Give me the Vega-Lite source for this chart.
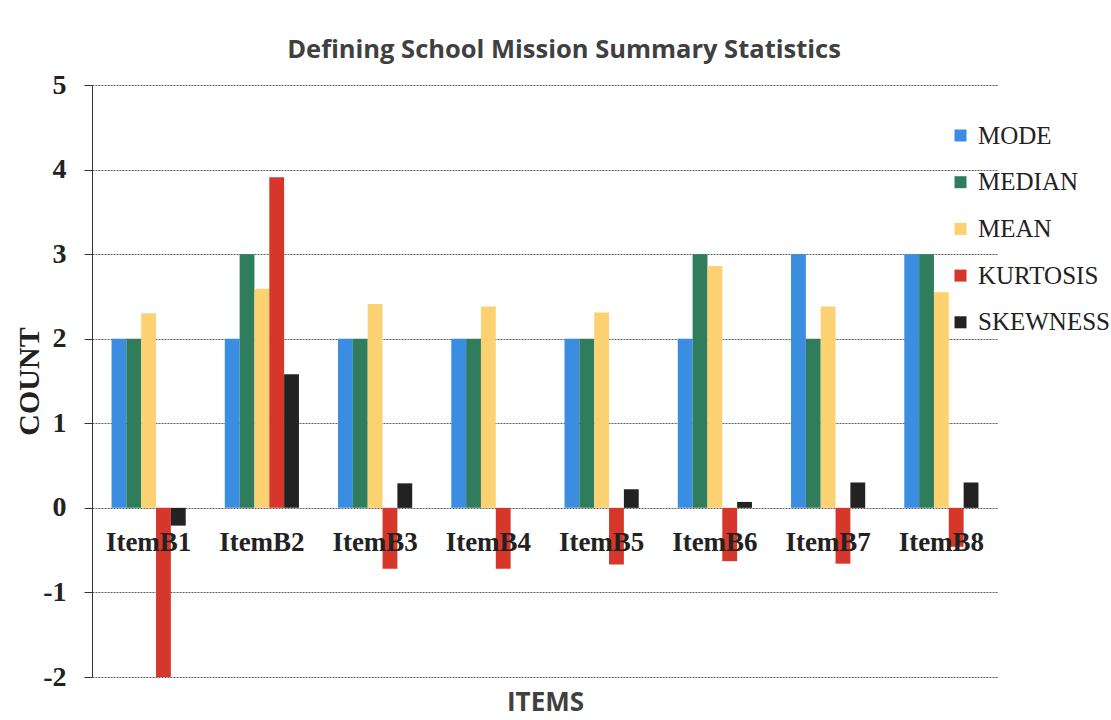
{
  "$schema": "https://vega.github.io/schema/vega-lite/v6.json",
  "width": 906,
  "height": 592,
  "autosize": {"type": "none"},
  "padding": {"left": 92, "top": 85, "right": 113, "bottom": 43},
  "background": "white",
  "title": {
    "text": "Defining School Mission Summary Statistics",
    "font": "Open Sans",
    "fontSize": 25.5,
    "fontWeight": "bold",
    "color": "#404040",
    "anchor": "middle",
    "frame": "group",
    "baseline": "alphabetic",
    "offset": 26,
    "dx": 19,
    "dy": 38
  },
  "data": {
    "values": [
      {"item": "ItemB1", "stat": "MODE", "value": 2},
      {"item": "ItemB1", "stat": "MEDIAN", "value": 2},
      {"item": "ItemB1", "stat": "MEAN", "value": 2.3},
      {"item": "ItemB1", "stat": "KURTOSIS", "value": -2.0},
      {"item": "ItemB1", "stat": "SKEWNESS", "value": -0.21},
      {"item": "ItemB2", "stat": "MODE", "value": 2},
      {"item": "ItemB2", "stat": "MEDIAN", "value": 3},
      {"item": "ItemB2", "stat": "MEAN", "value": 2.59},
      {"item": "ItemB2", "stat": "KURTOSIS", "value": 3.91},
      {"item": "ItemB2", "stat": "SKEWNESS", "value": 1.58},
      {"item": "ItemB3", "stat": "MODE", "value": 2},
      {"item": "ItemB3", "stat": "MEDIAN", "value": 2},
      {"item": "ItemB3", "stat": "MEAN", "value": 2.41},
      {"item": "ItemB3", "stat": "KURTOSIS", "value": -0.72},
      {"item": "ItemB3", "stat": "SKEWNESS", "value": 0.29},
      {"item": "ItemB4", "stat": "MODE", "value": 2},
      {"item": "ItemB4", "stat": "MEDIAN", "value": 2},
      {"item": "ItemB4", "stat": "MEAN", "value": 2.38},
      {"item": "ItemB4", "stat": "KURTOSIS", "value": -0.72},
      {"item": "ItemB4", "stat": "SKEWNESS", "value": 0.0},
      {"item": "ItemB5", "stat": "MODE", "value": 2},
      {"item": "ItemB5", "stat": "MEDIAN", "value": 2},
      {"item": "ItemB5", "stat": "MEAN", "value": 2.31},
      {"item": "ItemB5", "stat": "KURTOSIS", "value": -0.67},
      {"item": "ItemB5", "stat": "SKEWNESS", "value": 0.22},
      {"item": "ItemB6", "stat": "MODE", "value": 2},
      {"item": "ItemB6", "stat": "MEDIAN", "value": 3},
      {"item": "ItemB6", "stat": "MEAN", "value": 2.86},
      {"item": "ItemB6", "stat": "KURTOSIS", "value": -0.63},
      {"item": "ItemB6", "stat": "SKEWNESS", "value": 0.07},
      {"item": "ItemB7", "stat": "MODE", "value": 3},
      {"item": "ItemB7", "stat": "MEDIAN", "value": 2},
      {"item": "ItemB7", "stat": "MEAN", "value": 2.38},
      {"item": "ItemB7", "stat": "KURTOSIS", "value": -0.66},
      {"item": "ItemB7", "stat": "SKEWNESS", "value": 0.3},
      {"item": "ItemB8", "stat": "MODE", "value": 3},
      {"item": "ItemB8", "stat": "MEDIAN", "value": 3},
      {"item": "ItemB8", "stat": "MEAN", "value": 2.55},
      {"item": "ItemB8", "stat": "KURTOSIS", "value": -0.46},
      {"item": "ItemB8", "stat": "SKEWNESS", "value": 0.3}
    ]
  },
  "mark": {"type": "bar"},
  "encoding": {
    "x": {
      "field": "item",
      "type": "nominal",
      "sort": null,
      "scale": {"paddingInner": 0.345, "paddingOuter": 0.1725},
      "axis": {
        "orient": "bottom",
        "offset": -170,
        "zindex": 1,
        "grid": false,
        "domain": false,
        "ticks": false,
        "tickSize": 0,
        "labelAngle": 0,
        "labelFont": "Liberation Serif",
        "labelFontSize": 27,
        "labelFontWeight": "bold",
        "labelColor": "#222222",
        "labelBaseline": "alphabetic",
        "labelPadding": 43,
        "title": "ITEMS",
        "titleFont": "Open Sans",
        "titleFontSize": 26,
        "titleFontWeight": "bold",
        "titleColor": "#404040",
        "titleBaseline": "alphabetic",
        "titleY": 203
      }
    },
    "xOffset": {
      "field": "stat",
      "type": "nominal",
      "sort": ["MODE", "MEDIAN", "MEAN", "KURTOSIS", "SKEWNESS"],
      "scale": {"paddingInner": 0, "paddingOuter": 0}
    },
    "y": {
      "field": "value",
      "type": "quantitative",
      "scale": {"domain": [-2, 5], "nice": false, "zero": true},
      "axis": {
        "values": [-2, -1, 0, 1, 2, 3, 4, 5],
        "labelExpr": "'' + datum.value",
        "grid": true,
        "gridColor": "#5f5f5f",
        "gridDash": [2, 1],
        "gridWidth": 1,
        "domain": true,
        "domainColor": "#333333",
        "ticks": true,
        "tickSize": 8,
        "tickColor": "#333333",
        "labelFont": "Liberation Serif",
        "labelFontSize": 28,
        "labelFontWeight": "bold",
        "labelColor": "#222222",
        "labelPadding": 18,
        "title": "COUNT",
        "titleFont": "Liberation Serif",
        "titleFontSize": 30,
        "titleFontWeight": "bold",
        "titleColor": "#222222",
        "titlePadding": -2
      }
    },
    "color": {
      "field": "stat",
      "type": "nominal",
      "sort": ["MODE", "MEDIAN", "MEAN", "KURTOSIS", "SKEWNESS"],
      "scale": {
        "domain": ["MODE", "MEDIAN", "MEAN", "KURTOSIS", "SKEWNESS"],
        "range": ["#3b8de2", "#2f7d5c", "#fbd172", "#d6372a", "#222222"]
      },
      "legend": {
        "orient": "none",
        "legendX": 856,
        "legendY": 38,
        "title": null,
        "padding": 0,
        "symbolType": "square",
        "symbolSize": 144,
        "symbolStrokeWidth": 0,
        "labelFont": "Liberation Serif",
        "labelFontSize": 25,
        "labelColor": "#222222",
        "labelOffset": 5,
        "rowPadding": 20.7,
        "labelLimit": 300
      }
    }
  },
  "config": {
    "font": "Liberation Serif",
    "view": {"stroke": null}
  }
}
